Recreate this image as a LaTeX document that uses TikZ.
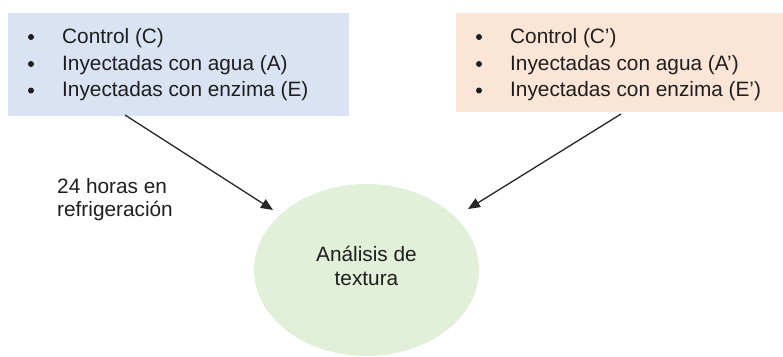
\documentclass[tikz,border=0pt]{standalone}
\usepackage{fontspec}
\setmainfont{Liberation Sans}
\usetikzlibrary{shapes.geometric,arrows.meta}
\definecolor{boxblue}{HTML}{DAE3F3}
\definecolor{boxorange}{HTML}{FBE5D6}
\definecolor{ellgreen}{HTML}{E2F0D9}
\definecolor{txt}{HTML}{1E1E1E}
\definecolor{arrcol}{HTML}{262626}
\tikzset{
  lbl/.style={anchor=base west,inner sep=0pt,text=txt,font=\fontsize{20.8}{24}\selectfont},
  ctr/.style={anchor=base,inner sep=0pt,text=txt,font=\fontsize{20.8}{24}\selectfont},
  bul/.style={circle,fill=txt,inner sep=0pt,minimum size=6pt},
  arr/.style={draw=arrcol,line width=1.3pt,-{Triangle[length=12pt,width=10pt]}}
}
\begin{document}
\begin{tikzpicture}[x=1pt,y=-1pt]
\useasboundingbox (0,0) rectangle (783,356);
% boxes
\fill[boxblue] (8,13) rectangle (349,116);
\fill[boxorange] (456,13) rectangle (783,112);
% ellipse
\node[ellipse,fill=ellgreen,inner sep=0pt,minimum width=225pt,minimum height=172pt] (ell) at (366.5,270) {};
\node[ctr] (e1) at (366.5,261) {Análisis de};
\node[ctr] (e2) at (366.5,285) {textura};
% left list
\node[bul] (lb1) at (31,37) {};
\node[bul] (lb2) at (31,64) {};
\node[bul] (lb3) at (31,90.5) {};
\node[lbl] (l1) at (62,43.3) {Control (C)};
\node[lbl] (l2) at (62,70.3) {Inyectadas con agua (A)};
\node[lbl] (l3) at (62,96.7) {Inyectadas con enzima (E)};
% right list
\node[bul] (rb1) at (479,37) {};
\node[bul] (rb2) at (479,64) {};
\node[bul] (rb3) at (479,90.5) {};
\node[lbl] (r1) at (510,43.3) {Control (C’)};
\node[lbl] (r2) at (510,70.3) {Inyectadas con agua (A’)};
\node[lbl] (r3) at (510,96.7) {Inyectadas con enzima (E’)};
% side label
\node[lbl] (s1) at (57,193.3) {24 horas en};
\node[lbl] (s2) at (57,216.7) {refrigeración};
% arrows
\coordinate (ls) at (125,115);
\coordinate (lt) at (273,210);
\coordinate (rs) at (621,114);
\coordinate (rt) at (468,209);
\draw[arr] (ls) -- (lt);
\draw[arr] (rs) -- (rt);
\end{tikzpicture}
\end{document}
